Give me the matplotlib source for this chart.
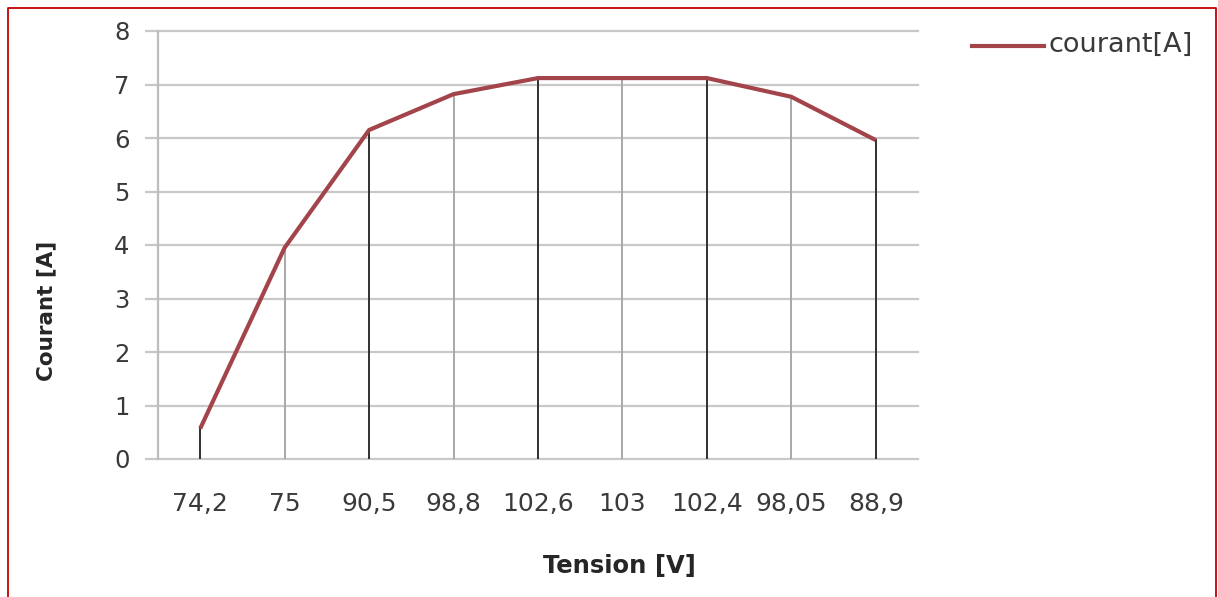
import matplotlib
matplotlib.use("Agg")
import matplotlib.pyplot as plt
from matplotlib.lines import Line2D
import numpy as np

categories = ["74,2", "75", "90,5", "98,8", "102,6", "103", "102,4", "98,05", "88,9"]
courant = [0.57, 3.95, 6.15, 6.82, 7.12, 7.12, 7.12, 6.77, 5.96]
yticks = [0, 1, 2, 3, 4, 5, 6, 7, 8]
series_name = "courant[A]"
xlabel = "Tension [V]"
ylabel = "Courant [A]"

W, H = 1218, 597
fig = plt.figure(figsize=(W / 100, H / 100), dpi=100)
fig.patch.set_facecolor("white")
font = "DejaVu Sans"
txtcol = "#3A3A3A"
linecol = "#A3444A"

ax = fig.add_axes([158 / W, (H - 459) / H, (918 - 158) / W, (459 - 31) / H])
x = np.arange(len(categories))
ax.set_xlim(-0.5, len(categories) - 0.5)
ax.set_ylim(0, 8)

# horizontal gridlines
ax.set_yticks(yticks)
ax.yaxis.grid(True, color="#C8C8C8", linewidth=1.6)
ax.set_axisbelow(True)
for gl in ax.get_ygridlines():
    gl.set_clip_on(False)
for s in ["top", "right", "bottom"]:
    ax.spines[s].set_visible(False)
ax.spines["left"].set_color("#BDBDBD")
ax.spines["left"].set_linewidth(1.6)
ax.tick_params(axis="y", length=9.5, width=1.6, color="#C8C8C8", pad=11,
               labelsize=17.5, labelcolor=txtcol)
ax.set_yticklabels([str(v) for v in yticks], fontfamily=font)

ax.set_xticks(x)
ax.set_xticklabels(categories, fontfamily=font)
ax.tick_params(axis="x", length=0, pad=24, labelsize=18, labelcolor=txtcol)

# drop lines
for i, (xi, yi) in enumerate(zip(x, courant)):
    col = "#303030" if i % 2 == 0 else "#A8A8A8"
    ax.plot([xi, xi], [0, yi], color=col, linewidth=1.4, zorder=2)

ax.plot(x, courant, color=linecol, linewidth=3.0, zorder=3,
        solid_joinstyle="round", solid_capstyle="butt")

fig.text(619 / W, (H - 566) / H, xlabel, ha="center", va="center",
         fontsize=17.5, fontweight="bold", fontfamily=font, color="#262626")
fig.text(46 / W, (H - 311) / H, ylabel, ha="center", va="center", rotation=90,
         fontsize=15.5, fontweight="bold", fontfamily=font, color="#262626")

# legend
fig.add_artist(Line2D([972 / W, 1044 / W], [(H - 46) / H, (H - 46) / H],
                      color=linecol, linewidth=3.0, transform=fig.transFigure))
fig.text(1048 / W, (H - 45) / H, series_name, ha="left", va="center",
         fontsize=19.5, fontfamily=font, color=txtcol)

# red border (left, top, right)
bc = "#C00000"
fig.add_artist(Line2D([7.5 / W, 7.5 / W, 1216 / W, 1216 / W],
                      [0, (H - 7.5) / H, (H - 7.5) / H, 0],
                      color=bc, linewidth=1.3, transform=fig.transFigure))

fig.savefig("out.png", dpi=100, facecolor="white")
